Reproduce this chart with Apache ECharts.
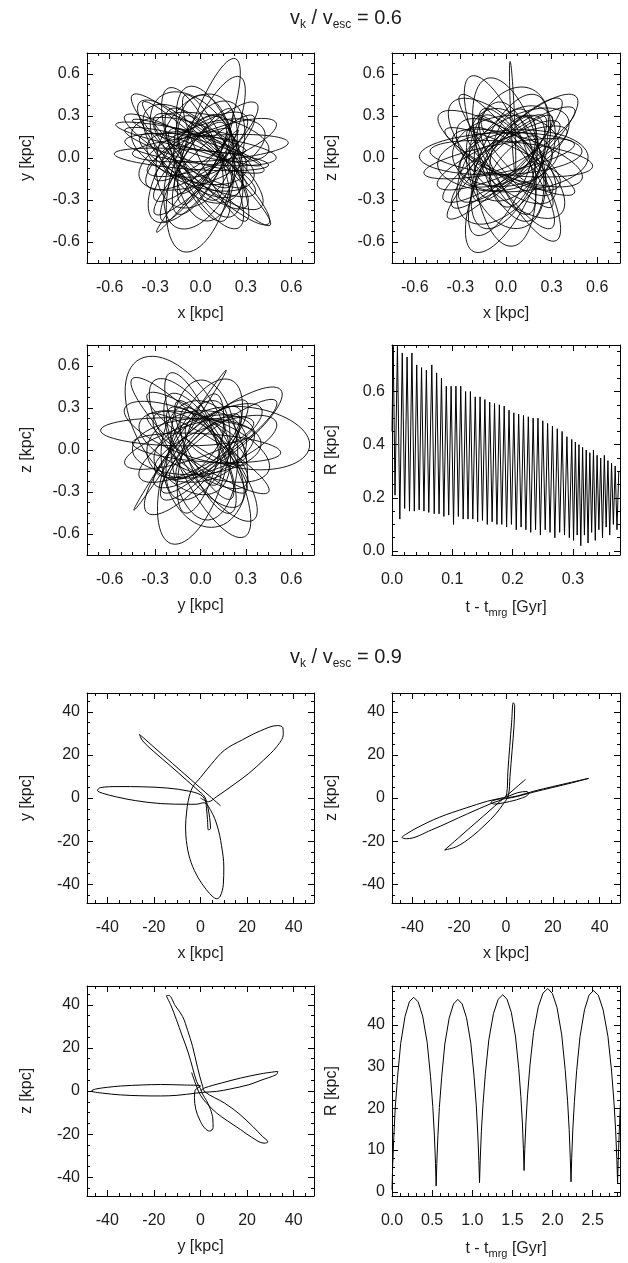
<!DOCTYPE html>
<html><head><meta charset="utf-8">
<script src="https://cdn.jsdelivr.net/npm/echarts@6/dist/echarts.min.js"></script>
<style>html,body{margin:0;padding:0;background:#fff}#c{width:628px;height:1263px}</style>
</head><body><div id="c"></div>
<script>
// ---------- tick labels ----------
const ticks06 = [-0.6, -0.3, 0, 0.3, 0.6];
const ticks09 = [-40, -20, 0, 20, 40];
const ticksT06 = [0, 0.1, 0.2, 0.3];
const ticksR06 = [0, 0.2, 0.4, 0.6];
const ticksT09 = [0, 0.5, 1, 1.5, 2, 2.5];
const ticksR09 = [0, 10, 20, 30, 40];

// ---------- v_k / v_esc = 0.6 : orbit loops (kpc), 4 points per loop: tip, side, far end, side ----------
const xy06 = [
[0.5,0],[0.012,0.159],[-0.5,0.12],[-0.012,-0.039],
[0.58,0.11],[0.058,0.16],[-0.45,0.03],[0.072,-0.02],
[0.25,0.1],[-0.043,0.169],[-0.25,-0.05],[0.043,-0.119],
[0.42,0.2],[-0.068,0.209],[-0.4,-0.15],[0.088,-0.159],
[0.25,0.2],[-0.044,-0.147],[-0.29,-0.53],[0.004,-0.183],
[0.35,0.3],[-0.048,0.018],[-0.3,-0.4],[0.098,-0.118],
[0.3,0.3],[-0.117,0.169],[-0.35,-0.2],[0.067,-0.069],
[0.37,0.39],[-0.051,0.129],[-0.3,-0.3],[0.121,-0.039],
[0.15,0.25],[-0.086,0.051],[-0.15,-0.25],[0.086,-0.051],
[0.2,0.35],[-0.112,-0.001],[-0.25,-0.45],[0.062,-0.099],
[0.26,0.58],[-0.074,0.144],[-0.15,-0.4],[0.184,0.036],
[0.23,0.71],[-0.059,0.228],[-0.12,-0.33],[0.169,0.152],
[0.1,0.3],[-0.201,-0.143],[-0.11,-0.67],[0.191,-0.227],
[0,0.45],[-0.175,-0.011],[0.05,-0.45],[0.225,0.011],
[-0.08,0.51],[-0.112,-0.007],[0.2,-0.42],[0.232,0.097],
[-0.1,0.45],[0.009,-0.041],[0.3,-0.45],[0.191,0.041],
[-0.1,0.3],[-0.114,-0.038],[0.1,-0.3],[0.114,0.038],
[-0.21,0.5],[-0.17,-0.028],[0.15,-0.45],[0.11,0.078],
[-0.38,0.4],[-0.018,-0.095],[0.46,-0.48],[0.098,0.015],
[-0.45,0.45],[-0.086,-0.094],[0.45,-0.47],[0.086,0.074],
[-0.4,0.4],[-0.16,-0.077],[0.3,-0.35],[0.06,0.127],
[-0.2,0.2],[-0.071,-0.071],[0.2,-0.2],[0.071,0.071],
[-0.45,0.27],[-0.043,0.063],[0.4,-0.05],[-0.007,0.157],
[-0.56,0.24],[-0.143,0.086],[0.3,0.05],[-0.117,0.204],
[-0.5,0.2],[-0.064,-0.021],[0.42,-0.09],[-0.016,0.131],
[-0.4,0.15],[-0.076,-0.156],[0.36,-0.25],[0.036,0.056],
[-0.35,0.1],[-0.06,-0.195],[0.35,-0.15],[0.06,0.145],
[-0.57,0.03],[-0.065,-0.08],[0.45,-0.05],[-0.055,0.06],
[0.5,0.25],[0.029,0.186],[-0.35,-0.1],[0.121,-0.036],
[-0.35,0.35],[-0.191,-0.091],[0.25,-0.25],[0.091,0.191],
[0.1,0.45],[-0.264,0.125],[-0.15,-0.35],[0.214,-0.025],
[-0.3,-0.45],[0.079,-0.168],[0.15,0.3],[-0.229,0.018],
[0.4,-0.35],[0.152,0.085],[-0.3,0.3],[-0.052,-0.135],
[-0.5,0.3],[-0.153,-0.035],[0.3,-0.2],[-0.047,0.135],
[0.25,-0.5],[0.158,-0.005],[-0.2,0.35],[-0.108,-0.145],
[0.45,0.05],[0.114,0.295],[-0.3,0.25],[0.036,0.005],
[-0.25,0.45],[-0.239,-0.054],[0.2,-0.3],[0.189,0.204],
[0.2,0.2],[-0.096,0.091],[-0.3,-0.15],[-0.004,-0.041],
[-0.15,-0.5],[0.23,-0.13],[0.2,0.4],[-0.18,0.03],
[0.3,-0.1],[-0.001,0.236],[-0.45,0.2],[-0.149,-0.136]
];
const xz06 = [
[0.54,0.01],[0.032,0.2],[-0.45,-0.05],[0.058,-0.24],
[0.45,0.1],[-0.066,0.093],[-0.54,-0.11],[-0.024,-0.103],
[0.3,0.05],[-0.049,0.169],[-0.3,-0.1],[0.049,-0.219],
[0.35,0.25],[-0.1,0.072],[-0.41,-0.3],[0.04,-0.122],
[0.46,0.44],[-0.025,0.177],[-0.3,-0.3],[0.185,-0.037],
[0.3,0.3],[-0.113,0.003],[-0.38,-0.43],[0.033,-0.133],
[0.36,0.42],[-0.083,0.116],[-0.35,-0.35],[0.093,-0.046],
[0.2,0.15],[-0.011,0.027],[-0.1,-0.2],[0.111,-0.077],
[0.25,0.3],[-0.071,0.072],[-0.2,-0.3],[0.121,-0.072],
[0.2,0.45],[-0.163,0.044],[-0.15,-0.5],[0.213,-0.094],
[0.2,0.3],[-0.171,-0.115],[-0.21,-0.67],[0.161,-0.255],
[0.1,0.35],[-0.099,0.021],[0,-0.35],[0.199,-0.021],
[0.027,0.69],[0.031,0.295],[0.06,-0.1],[0.056,0.295],
[-0.05,0.4],[-0.204,-0.132],[0.04,-0.63],[0.194,-0.098],
[-0.12,0.57],[-0.178,0.009],[0.15,-0.45],[0.208,0.111],
[-0.23,0.585],[-0.18,0.039],[0.15,-0.4],[0.1,0.147],
[-0.15,0.35],[-0.035,-0.184],[0.33,-0.59],[0.215,-0.056],
[-0.3,0.45],[-0.08,-0.01],[0.3,-0.35],[0.08,0.11],
[-0.3,0.25],[-0.11,-0.218],[0.36,-0.4],[0.17,0.068],
[-0.25,0.2],[-0.051,-0.118],[0.3,-0.25],[0.101,0.068],
[-0.44,0.31],[-0.126,-0.071],[0.35,-0.2],[0.036,0.181],
[-0.4,0.2],[-0.022,-0.113],[0.45,-0.25],[0.072,0.063],
[-0.5,0.05],[0.023,-0.124],[0.57,-0.06],[0.047,0.114],
[-0.57,0.01],[-0.03,-0.12],[0.5,0.05],[-0.04,0.18],
[0.4,0.3],[-0.058,0.243],[-0.3,-0.15],[0.158,-0.093],
[-0.35,0.4],[-0.172,-0.086],[0.3,-0.3],[0.122,0.186],
[0.1,-0.5],[0.243,-0.018],[-0.1,0.35],[-0.243,-0.132],
[0.5,-0.15],[0.125,0.141],[-0.35,0.15],[0.025,-0.141],
[-0.45,-0.2],[0.026,-0.109],[0.4,0.2],[-0.076,0.109],
[0.15,0.5],[-0.214,0.175],[-0.1,-0.3],[0.264,0.025],
[0.3,-0.5],[0.152,-0.036],[-0.2,0.3],[-0.052,-0.164],
[-0.2,-0.55],[0.114,-0.182],[0.15,0.3],[-0.164,-0.068],
[0.35,0.1],[-0.035,0.298],[-0.35,0],[0.035,-0.198],
[-0.15,0.3],[-0.028,-0.013],[0.25,-0.2],[0.128,0.113],
[0.45,0.35],[0.068,0.207],[-0.2,-0.1],[0.182,0.043],
[-0.25,-0.45],[0.212,-0.183],[0.25,0.35],[-0.212,0.083]
];
const yz06 = [
[0.4,0.05],[-0.037,0.225],[-0.45,0],[-0.013,-0.175],
[0.35,0.15],[-0.047,0.212],[-0.3,-0.1],[0.097,-0.162],
[0.4,0.3],[-0.08,0.177],[-0.4,-0.2],[0.08,-0.077],
[0.53,0.43],[0.02,0.206],[-0.3,-0.25],[0.21,-0.026],
[0.25,0.25],[-0.074,0.042],[-0.25,-0.3],[0.074,-0.092],
[0.3,0.35],[-0.069,0.074],[-0.25,-0.35],[0.119,-0.074],
[0.15,0.2],[-0.064,0.048],[-0.15,-0.2],[0.064,-0.048],
[0.17,0.57],[-0.152,0.08],[-0.44,-0.43],[-0.118,0.06],
[0.1,0.35],[-0.237,-0.105],[-0.19,-0.67],[0.147,-0.215],
[0.1,0.4],[-0.117,0.002],[-0.1,-0.45],[0.117,-0.052],
[0,0.5],[-0.195,-0.011],[0.05,-0.5],[0.245,0.011],
[-0.1,0.3],[-0.061,-0.12],[0.2,-0.45],[0.161,-0.03],
[-0.4,0.65],[-0.396,0.041],[0.1,-0.3],[0.096,0.309],
[-0.2,0.4],[-0.108,-0.184],[0.29,-0.62],[0.198,-0.036],
[-0.15,0.35],[-0.064,-0.045],[0.2,-0.35],[0.114,0.045],
[-0.45,0.51],[-0.163,0.024],[0.3,-0.3],[0.013,0.186],
[-0.3,0.25],[-0.096,-0.115],[0.3,-0.25],[0.096,0.115],
[-0.35,0.4],[-0.086,0.071],[0.3,-0.1],[0.036,0.229],
[-0.35,0.25],[-0.007,-0.107],[0.45,-0.3],[0.107,0.057],
[-0.1,0.15],[0.275,-0.132],[0.72,0.02],[0.345,0.302],
[-0.45,0.05],[0.033,-0.085],[0.53,-0.02],[0.047,0.115],
[-0.66,0.14],[-0.157,0.03],[0.35,0.12],[-0.153,0.23],
[0.5,0.2],[0.04,0.162],[-0.3,-0.15],[0.16,-0.112],
[-0.3,0.5],[-0.179,-0.044],[0.25,-0.4],[0.129,0.144],
[0.1,-0.55],[0.301,-0.054],[-0.05,0.35],[-0.251,-0.146],
[0.45,-0.15],[0.101,0.21],[-0.4,0.2],[-0.051,-0.16],
[-0.5,-0.1],[-0.035,-0.063],[0.35,0.2],[-0.115,0.163],
[0.2,0.5],[-0.16,0.151],[-0.15,-0.35],[0.21,-0.001],
[-0.35,-0.45],[0.067,-0.169],[0.25,0.3],[-0.167,0.019],
[0.35,-0.5],[0.199,-0.015],[-0.2,0.3],[-0.049,-0.185],
[0.3,0.1],[-0.081,0.269],[-0.35,-0.05],[0.031,-0.219],
[-0.2,0.55],[-0.162,0.108],[0.1,-0.25],[0.062,0.192],
[0.5,0.35],[0.088,0.154],[-0.2,-0.2],[0.212,-0.004],
[-0.5,0.3],[-0.16,-0.012],[0.3,-0.05],[-0.04,0.262]
];
// R(t) for v_k/v_esc = 0.6
const t06 = [0,0.002,0.005,0.009,0.013,0.017,0.021,0.025,0.029,0.033,0.037,0.041,0.045,0.049,0.053,0.057,0.061,0.066,0.070,0.074,0.078,0.082,0.086,0.090,0.094,0.098,0.102,0.106,0.110,0.114,0.118,0.122,0.126,0.130,0.134,0.138,0.142,0.146,0.150,0.154,0.158,0.162,0.166,0.170,0.174,0.178,0.182,0.186,0.190,0.194,0.198,0.202,0.206,0.210,0.214,0.218,0.222,0.226,0.230,0.234,0.238,0.242,0.246,0.250,0.254,0.258,0.262,0.266,0.270,0.274,0.278,0.282,0.286,0.290,0.294,0.298,0.301,0.304,0.307,0.310,0.313,0.316,0.319,0.322,0.325,0.328,0.331,0.334,0.337,0.340,0.343,0.346,0.349,0.352,0.355,0.358,0.361,0.364,0.367,0.370,0.373,0.376];
const r06 = [0.45,0.77,0.21,0.77,0.12,0.745,0.16,0.73,0.15,0.745,0.15,0.70,0.155,0.69,0.15,0.68,0.145,0.70,0.14,0.67,0.14,0.65,0.13,0.62,0.135,0.62,0.10,0.62,0.13,0.62,0.12,0.60,0.12,0.60,0.12,0.58,0.11,0.58,0.115,0.57,0.10,0.56,0.11,0.555,0.10,0.55,0.10,0.545,0.09,0.53,0.10,0.52,0.08,0.515,0.09,0.51,0.08,0.505,0.07,0.50,0.08,0.50,0.06,0.49,0.08,0.48,0.07,0.47,0.05,0.46,0.07,0.45,0.06,0.43,0.05,0.42,0.04,0.41,0.06,0.40,0.02,0.39,0.06,0.38,0.03,0.37,0.07,0.38,0.04,0.36,0.08,0.35,0.05,0.36,0.09,0.34,0.06,0.33,0.10,0.32,0.08,0.30];

// ---------- v_k / v_esc = 0.9 : orbit projections (kpc) ----------
const xy09 = [
[0,0],[3.4,-1.7],[6.9,0.6],[14,6],[20.7,11.4],[27,17.5],[32.7,23.8],[35.5,29.5],[35.3,32.7],[33,33.6],[25.8,31.2],[18,27],[10.3,22.2],[4.5,15.5],[0,9.5],[-3.4,5],[-5.2,-1],[-6,-7],[-6.4,-13],[-5.8,-22],[-4,-30],[-1,-37],[2.5,-42.5],[5.5,-46],[7,-46.7],[8.5,-45.5],[9.8,-40],[10,-32],[9,-22],[7.2,-13],[4.5,-6],[1.5,-2.2],[-2,-2.9],[-5.2,-2.9],[-17,-2.6],[-28,-1.2],[-36,0.5],[-42,2.2],[-44.2,3.5],[-43,4.8],[-35,5.3],[-25,5.2],[-14,4.6],[-5,3.2],[0,1.5],[2,-1],[2.6,-5],[3,-10],[3.4,-14.8],[4.3,-14.2],[3.9,-9],[3.1,-4],[1.8,0.5],[-1,3.5],[-6,8.3],[-13,15],[-20,21.5],[-24.8,26.5],[-26.2,29.5],[-25,28.4],[-20,23.6],[-12,16],[-4,8.4],[0,4.6],[4,0.8],[8.6,-3.6]
];
const xz09 = [
[0,0],[5,1],[12,3.2],[20,5.3],[28,7.3],[35.3,9.1],[28,7.0],[20,4.9],[12,2.8],[5,0.8],[0,-0.3],[-3,-0.5],[-5.5,-1.2],[-6.4,-2],[-5,-2.8],[0,-2],[6,-0.3],[9.5,1.8],[9,3],[5,2.5],[1,0.8],[-3,-0.3],[-8,-1.5],[-17,-4.6],[-28.4,-8.9],[-38,-13.8],[-43,-17],[-44.4,-18.3],[-42.5,-18.9],[-31.8,-14.8],[-16.4,-7.3],[-6,-2.4],[-1,-0.3],[0.3,2],[0.8,12],[1.6,24],[2.4,35],[3.1,44.2],[3.7,43],[3.4,33],[2.6,22],[1.7,10],[1,1],[-1,-2.5],[-4.3,-7.3],[-9,-12.5],[-14.6,-17.9],[-21,-22.5],[-26.2,-24.1],[-20,-18.2],[-10,-8.7],[0,0.8],[8.3,8.6]
];
const yz09 = [
[0,0],[1.7,1.4],[9,3.7],[17.2,6],[26,8],[33.2,9.1],[32.5,7.6],[26,5],[20.7,2.9],[13,1],[6.9,-0.2],[1,-0.6],[-2,-1],[-10,-2],[-17.2,-2.3],[-26,-2.2],[-34.4,-1.8],[-42,-1],[-46.8,0],[-45,0.9],[-40,1.7],[-34.4,2.3],[-25,2.8],[-17.2,3.0],[-8,2.8],[0,2.3],[-2.3,0.3],[-2.6,-3],[-2,-8.6],[-0.5,-13],[1.7,-17.1],[4,-18.6],[5.4,-17],[5.3,-13],[4.3,-8.6],[2.6,-4.5],[0.9,-1.5],[0,1],[-1.7,4.5],[-5.2,17.6],[-8,26],[-10.3,33],[-12.8,40],[-14.6,44.2],[-13.6,44.3],[-10.8,39.5],[-7.7,34.6],[-5.5,28],[-3.4,20.7],[-1.3,11],[0.9,2.2],[2,-0.5],[10.3,-5.6],[16.5,-10.5],[22.4,-16.4],[26.5,-21],[28.9,-23.6],[27.3,-24.2],[22,-21.5],[17.2,-17.9],[11.5,-13.8],[6.9,-10.2],[2.5,-5.5],[0,-2],[-2,3],[-3.8,8.6]
];
// R(t) for v_k/v_esc = 0.9
const t09 = [0,0.008,0.022,0.04,0.068,0.108,0.162,0.216,0.27, 0.326,0.382,0.438,0.48,0.508,0.528,0.542,0.55, 0.558,0.572,0.59,0.618,0.658,0.712,0.766,0.82, 0.874,0.928,0.982,1.022,1.05,1.068,1.082,1.09, 1.099,1.113,1.134,1.163,1.206,1.264,1.322,1.38, 1.433,1.486,1.539,1.579,1.605,1.624,1.637,1.645, 1.654,1.669,1.689,1.719,1.763,1.822,1.881,1.94, 1.998,2.056,2.114,2.157,2.187,2.207,2.221,2.23, 2.238,2.252,2.272,2.3,2.342,2.398,2.454,2.51, 2.57,2.63,2.69,2.735,2.765,2.786,2.801,2.81, 2.818,2.83,2.845];
const r09 = [0.5,6,13,20,27.2,35.5,42,45.5,46.6, 45.5,42.1,35.8,27.6,20.4,13.6,6.8,1.4, 6.8,13.5,20.2,27.3,35.4,41.6,45,46.1, 45,41.7,35.6,27.7,20.6,14.1,7.5,2.2, 7.6,14.4,21.1,28.3,36.4,42.7,46.1,47.2, 46.1,43,37.1,29.5,22.8,16.5,10.2,5.1, 10.3,16.9,23.4,30.4,38.2,44.3,47.6,48.7, 47.5,44.1,37.6,29.3,21.8,14.9,7.9,2.4, 7.9,14.8,21.6,29,37.2,43.6,47.1,48.2, 47.1,43.6,37.2,28.9,21.5,14.6,7.7,2.2, 7.5,14,21];

// ---------- layout ----------
const FONT = '"Liberation Sans", Arial, Helvetica, sans-serif';
const TXT = '#1c1c1c';
const zip = (a, b) => a.map((v, i) => [v, b[i]]);
const loops = pts => { const out = []; for (let i = 0; i + 3 < pts.length; i += 4) out.push([].concat(pts[i], pts[i+1], pts[i+2], pts[i+3])); return out; };
const f1 = v => v.toFixed(1);
const f0 = v => String(Math.round(v));
const SUB = {fontSize: 11, fontFamily: FONT, color: TXT, padding: [9, 0, 0, 0]};

const panels = [
  {r:[87,53,227,210], xr:[-0.75,0.75], yr:[-0.75,0.75], xt:ticks06, yt:ticks06, xm:0.075, ym:0.075, xf:f1, yf:f1, xn:'x [kpc]', yn:'y [kpc]', loops:loops(xy06)},
  {r:[392,53,228,210], xr:[-0.75,0.75], yr:[-0.75,0.75], xt:ticks06, yt:ticks06, xm:0.075, ym:0.075, xf:f1, yf:f1, xn:'x [kpc]', yn:'z [kpc]', loops:loops(xz06)},
  {r:[87,345,227,210], xr:[-0.75,0.75], yr:[-0.75,0.75], xt:ticks06, yt:ticks06, xm:0.075, ym:0.075, xf:f1, yf:f1, xn:'y [kpc]', yn:'z [kpc]', loops:loops(yz06)},
  {r:[392,345,228,210], xr:[0,0.378], yr:[-0.015,0.775], xt:ticksT06, yt:ticksR06, xm:0.02, ym:0.05, xf:f1, yf:f1, xn:'t - t{s|mrg} [Gyr]', yn:'R [kpc]', d:zip(t06,r06), sm:0},
  {r:[87,693,227,210], xr:[-48.7,48.7], yr:[-48.7,48.7], xt:ticks09, yt:ticks09, xm:5, ym:5, xf:f0, yf:f0, xn:'x [kpc]', yn:'y [kpc]', d:xy09, sm:0.35},
  {r:[392,693,228,210], xr:[-48.7,48.7], yr:[-48.7,48.7], xt:ticks09, yt:ticks09, xm:5, ym:5, xf:f0, yf:f0, xn:'x [kpc]', yn:'z [kpc]', d:xz09, sm:0.35},
  {r:[87,986,227,210], xr:[-48.7,48.7], yr:[-48.7,48.7], xt:ticks09, yt:ticks09, xm:5, ym:5, xf:f0, yf:f0, xn:'y [kpc]', yn:'z [kpc]', d:yz09, sm:0.35},
  {r:[392,986,228,210], xr:[0,2.84], yr:[-1,49.3], xt:ticksT09, yt:ticksR09, xm:0.1, ym:2, xf:f1, yf:f0, xn:'t - t{s|mrg} [Gyr]', yn:'R [kpc]', d:zip(t09,r09), sm:0}
];

function steps(a, b, s) {
  const out = [];
  const k0 = Math.ceil(a / s - 1e-9), k1 = Math.floor(b / s + 1e-9);
  for (let k = k0; k <= k1; k++) out.push(+(k * s).toFixed(6));
  return out;
}

const grids = [], xAxes = [], yAxes = [], series = [];
const LS = {color: '#000', width: 1};
const labelStyle = {fontSize: 16, fontFamily: FONT, color: TXT};
const nameStyle = {fontSize: 16, fontFamily: FONT, color: TXT, rich: {s: SUB}};

panels.forEach((p, i) => {
  grids.push({left: p.r[0], top: p.r[1], width: p.r[2], height: p.r[3], containLabel: false});
  const common = {type: 'value', gridIndex: i, splitLine: {show: false}, silent: true};
  const xMin = steps(p.xr[0], p.xr[1], p.xm), yMin = steps(p.yr[0], p.yr[1], p.ym);
  const mkX = (pos, major, withLabel) => Object.assign({}, common, {
    min: p.xr[0], max: p.xr[1], position: pos,
    axisLine: {show: major, onZero: false, lineStyle: LS},
    axisTick: {show: true, inside: true, length: major ? 6 : 3, customValues: major ? p.xt : xMin, lineStyle: LS},
    axisLabel: withLabel ? Object.assign({show: true, customValues: p.xt, formatter: p.xf, margin: 17}, labelStyle) : {show: false},
    name: withLabel ? p.xn : '', nameLocation: 'middle', nameGap: 43, nameTextStyle: nameStyle
  });
  const mkY = (pos, major, withLabel) => Object.assign({}, common, {
    min: p.yr[0], max: p.yr[1], position: pos,
    axisLine: {show: major, onZero: false, lineStyle: LS},
    axisTick: {show: true, inside: true, length: major ? 6 : 3, customValues: major ? p.yt : yMin, lineStyle: LS},
    axisLabel: withLabel ? Object.assign({show: true, customValues: p.yt, formatter: p.yf, margin: 7}, labelStyle) : {show: false},
    name: withLabel ? p.yn : '', nameLocation: 'middle', nameGap: 52, nameTextStyle: nameStyle
  });
  xAxes.push(mkX('bottom', true, true), mkX('bottom', false, false), mkX('top', true, false), mkX('top', false, false));
  yAxes.push(mkY('left', true, true), mkY('left', false, false), mkY('right', true, false), mkY('right', false, false));
  if (p.loops) {
    series.push({
      type: 'custom', coordinateSystem: 'cartesian2d', xAxisIndex: 4 * i, yAxisIndex: 4 * i,
      data: p.loops, encode: {x: [0, 2, 4, 6], y: [1, 3, 5, 7]}, clip: true, silent: true,
      renderItem: function (params, api) {
        const pts = [0, 1, 2, 3].map(k => api.coord([api.value(2 * k), api.value(2 * k + 1)]));
        return {type: 'polygon', shape: {points: pts, smooth: 0.55},
          style: {fill: 'none', stroke: '#000', lineWidth: 0.9}};
      }
    });
  } else {
    series.push({
      type: 'line', xAxisIndex: 4 * i, yAxisIndex: 4 * i, data: p.d,
      showSymbol: false, symbol: 'none', smooth: p.sm, clip: true, silent: true,
      lineStyle: {color: '#000', width: 1}
    });
  }
});

const titleStyle = (txt, y) => ({
  type: 'text', x: 346, y: y,
  style: {text: txt, fontSize: 20, fontFamily: FONT, fill: TXT, align: 'center', verticalAlign: 'middle',
    rich: {s: {fontSize: 12, fontFamily: FONT, fill: TXT, padding: [14, 0, 0, 0]}}}
});

const chart = echarts.init(document.getElementById('c'), null, {renderer: 'canvas'});
chart.setOption({
  animation: false,
  backgroundColor: '#fff',
  grid: grids, xAxis: xAxes, yAxis: yAxes, series: series,
  graphic: [titleStyle('v{s|k} / v{s|esc} = 0.6', 18), titleStyle('v{s|k} / v{s|esc} = 0.9', 657)]
});
</script></body></html>
